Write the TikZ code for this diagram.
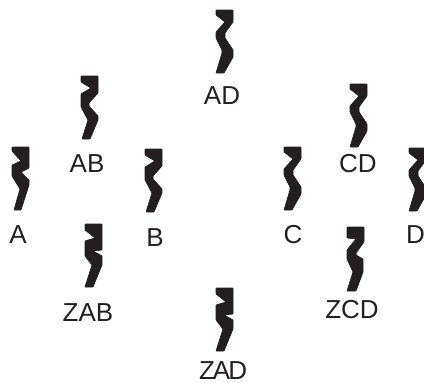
\documentclass[tikz,border=0pt]{standalone}
\usepackage{fontspec}
\setmainfont{Liberation Sans}
\definecolor{ink}{HTML}{231F20}
\tikzset{
  lbl/.style={anchor=base,inner sep=0pt,text=ink,font=\fontsize{26}{26}\selectfont},
  shp/.style={fill=ink,draw=ink,line width=0.7pt,rounded corners=0.6pt},
  pics/plain/.style={code={\path[shp] (0,0)--(17,0)--(17,12)--(9,23)--(9,28)--(17,40)--(17,47)--(8,63)--(0,63)--(6,43)--(6,40)--(0,28)--(0,22)--(9,12)--(0,5)--cycle;}},
  pics/ab/.style={code={\path[shp] (0,0)--(17,0)--(17,17)--(8,27)--(8,30)--(17,40)--(17,44)--(9,63)--(1,63)--(7,44)--(0,31)--(0,18)--(10,12)--(0,6)--cycle;}},
  pics/aa/.style={code={\path[shp] (0,0)--(17,0)--(17,21)--(9,25)--(17,33)--(17,38)--(9,63)--(2,63)--(8,42)--(0,29)--(0,18)--(9,14)--(0,4)--cycle;}},
  pics/zz/.style={code={\path[shp] (0,0)--(17,0)--(17,26)--(8,27)--(17,32)--(17,41)--(8,63)--(0,63)--(7,41)--(0,32)--(0,17)--(10,14)--(0,6)--cycle;}},
  pics/zc/.style={code={\path[shp] (0,0)--(17,0)--(17,15)--(9,26)--(9,28)--(16,32)--(16,45)--(9,64)--(0,64)--(6,45)--(0,32)--(0,23)--(9,12)--(0,11)--cycle;}},
}
\begin{document}
\begin{tikzpicture}[x=1pt,y=-1pt]
\useasboundingbox (0,0) rectangle (424,383);
\clip (0,0) rectangle (424,383);
\pic at (216,10) {plain};
\pic at (81,76) {ab};
\pic at (145,149) {ab};
\pic at (12,147) {aa};
\pic at (85,224) {zz};
\pic at (216,288) {zz};
\pic at (350,84) {plain};
\pic at (284,147) {plain};
\pic at (409,148) {plain};
\pic at (347,227) {zc};
\node[lbl] (ad) at (222,104) {AD};
\node[lbl] (ab) at (87,172) {AB};
\node[lbl] (a) at (18,243) {A};
\node[lbl] (b) at (155,246) {B};
\node[lbl] (zab) at (88,321) {ZAB};
\node[lbl] (zad) at (223,379) {Z\kern-2pt A\kern-2pt D};
\node[lbl] (cd) at (358,172) {CD};
\node[lbl] (c) at (293,243) {C};
\node[lbl,anchor=base west] (d) at (406,243) {D};
\node[lbl] (zcd) at (352,318) {ZCD};
\end{tikzpicture}
\end{document}
